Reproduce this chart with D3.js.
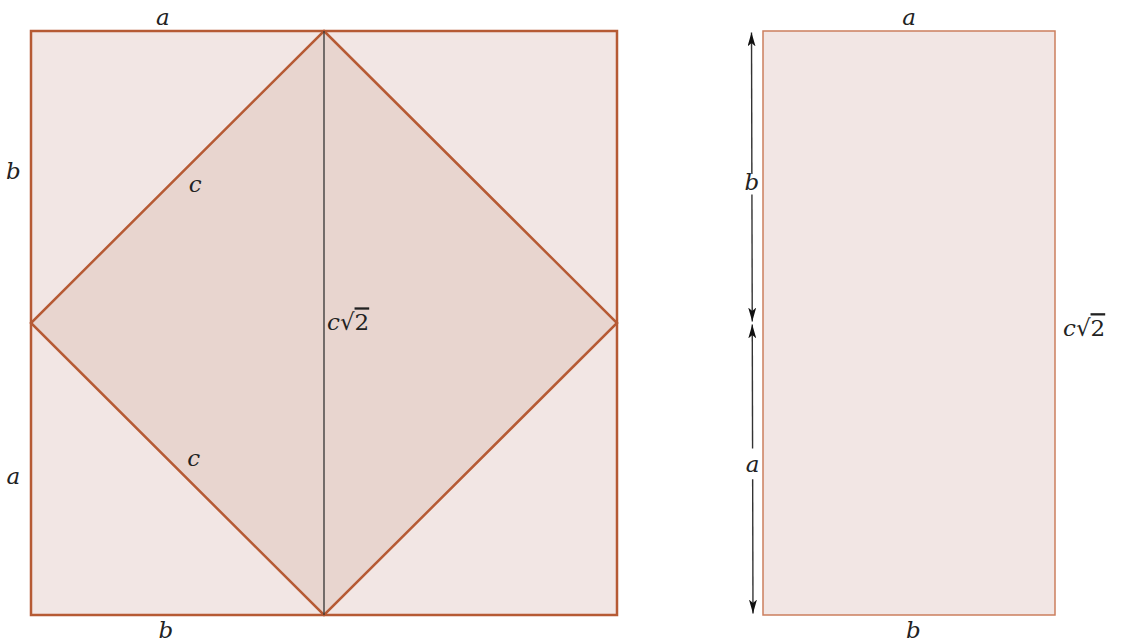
<!DOCTYPE html>
<html>
<head>
<meta charset="utf-8">
<script src="https://cdn.jsdelivr.net/npm/d3@7"></script>
<style>
  body { margin: 0; background: #fff; }
</style>
</head>
<body>
<div id="container"></div>
<script>

// side lengths in units (a = b here, c*sqrt(2) = a + b)
var side_a = 1;
var side_b = 1;

// left square: outer corners and inner diamond (units)
var outer_square = [[0, 0], [2, 0], [2, 2], [0, 2]];
var diamond = [[1, 0], [2, 1], [1, 2], [0, 1]];
var diagonal = [[1, 0], [1, 2]];

// right rectangle a x c*sqrt(2)
var rect_corners = [[0, 0], [1, 0], [1, 2], [0, 2]];

// labels: [text, x, y] in units
var left_labels = [
  ["a", 0.45, -0.045],
  ["b", -0.06, 0.48],
  ["c", 0.56, 0.525],
  ["c", 0.555, 1.465],
  ["a", -0.06, 1.525],
  ["b", 0.46, 2.055]
];
var right_labels = [
  ["a", 0.5, -0.045],
  ["b", 0.515, 2.055]
];
// arrows along the right height, [from, to] in units (head at "to")
var arrow_segments = [[0.49, 0.005], [0.56, 0.995], [1.43, 1.005], [1.535, 1.995]];
var arrow_labels = [["b", 0.52], ["a", 1.485]];

var width = 1123, height = 644;
var font = "'DejaVu Serif', 'Liberation Serif', serif";

var svg = d3.select("div#container")
  .append("svg")
  .attr("width", width)
  .attr("height", height);

var x = d3.scaleLinear().domain([0, side_a + side_b]).range([31, 617]);
var y = d3.scaleLinear().domain([0, side_a + side_b]).range([31, 615]);
var xr = d3.scaleLinear().domain([0, side_a]).range([763, 1055]);

var line = d3.line().x(function(d) { return x(d[0]); }).y(function(d) { return y(d[1]); });
var line_r = d3.line().x(function(d) { return xr(d[0]); }).y(function(d) { return y(d[1]); });

svg.append("defs").append("marker")
  .attr("id", "head")
  .attr("viewBox", "0 0 10 10")
  .attr("refX", 10).attr("refY", 5)
  .attr("markerWidth", 14).attr("markerHeight", 8)
  .attr("markerUnits", "userSpaceOnUse")
  .attr("orient", "auto")
  .attr("preserveAspectRatio", "none")
  .append("path")
  .attr("d", "M0,0 L10,5 L0,10 L2.5,5 Z")
  .attr("fill", "#111");

function label(sel, cls, data, xs) {
  sel.selectAll("text." + cls)
    .data(data)
    .enter().append("text")
    .attr("class", cls)
    .attr("x", function(d) { return xs(d[1]); })
    .attr("y", function(d) { return y(d[2]); })
    .attr("dy", "0.32em")
    .attr("text-anchor", "middle")
    .style("font-family", font)
    .style("font-size", "23px")
    .style("font-style", "italic")
    .style("fill", "#222")
    .text(function(d) { return d[0]; });
}

function sqrt_label(px, py) {
  var t = svg.append("text")
    .attr("x", px).attr("y", py)
    .attr("dy", "0.32em")
    .style("font-family", font)
    .style("font-size", "23px")
    .style("fill", "#222");
  t.append("tspan").style("font-style", "italic").text("c");
  t.append("tspan").text("\u221A");
  t.append("tspan").style("text-decoration", "overline").text("2");
}

// left figure
svg.append("path")
  .attr("d", line(outer_square) + "Z")
  .attr("fill", "#f2e6e4");

svg.append("path")
  .attr("d", line(diamond) + "Z")
  .attr("fill", "#e8d5cf")
  .attr("stroke", "#b65a34")
  .attr("stroke-width", 2.5);

svg.append("path")
  .attr("d", line(outer_square) + "Z")
  .attr("fill", "none")
  .attr("stroke", "#b65a34")
  .attr("stroke-width", 2.5);

svg.append("path")
  .attr("d", line(diagonal))
  .attr("stroke", "#333")
  .attr("stroke-width", 1.3);

label(svg, "left", left_labels, x);
sqrt_label(x(1) + 3, y(1));

// right figure
svg.append("path")
  .attr("d", line_r(rect_corners) + "Z")
  .attr("fill", "#f2e6e4")
  .attr("stroke", "#cc7f5e")
  .attr("stroke-width", 1.5);

label(svg, "right", right_labels, xr);
sqrt_label(xr(side_a) + 8, y(1.02));

// arrows, slightly slanted like the source
var ax = function(v) { return 751.5 + (v / 2) * 1.5; };
svg.selectAll("line.arrow")
  .data(arrow_segments)
  .enter().append("line")
  .attr("class", "arrow")
  .attr("x1", function(d) { return ax(d[0]); })
  .attr("y1", function(d) { return y(d[0]); })
  .attr("x2", function(d) { return ax(d[1]); })
  .attr("y2", function(d) { return y(d[1]); })
  .attr("stroke", "#333")
  .attr("stroke-width", 1.4)
  .attr("marker-end", "url(#head)");

svg.selectAll("text.arrowlab")
  .data(arrow_labels)
  .enter().append("text")
  .attr("class", "arrowlab")
  .attr("x", function(d) { return ax(d[1]); })
  .attr("y", function(d) { return y(d[1]); })
  .attr("dy", "0.32em")
  .attr("text-anchor", "middle")
  .style("font-family", font)
  .style("font-size", "23px")
  .style("font-style", "italic")
  .style("fill", "#222")
  .text(function(d) { return d[0]; });

</script>
</body>
</html>
